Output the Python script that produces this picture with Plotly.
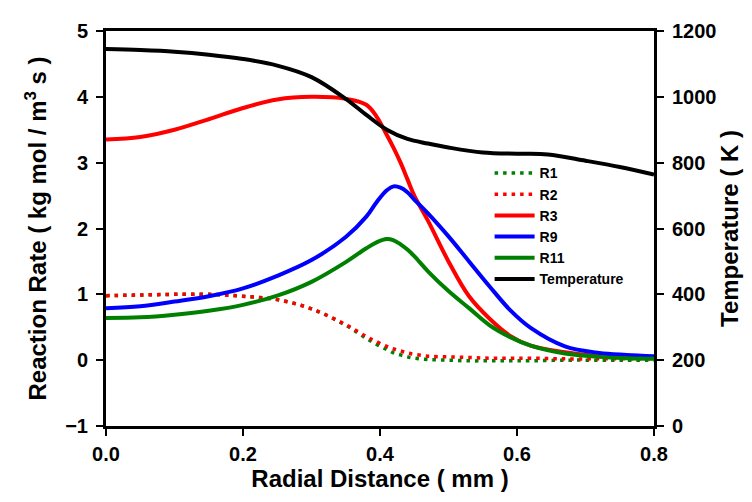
import plotly.graph_objects as go

# radial distance (mm)
x_rate = [0.0, 0.05, 0.1, 0.15, 0.2, 0.25, 0.3, 0.35, 0.38, 0.395, 0.41, 0.42, 0.43, 0.44,
          0.45, 0.47, 0.5, 0.53, 0.56, 0.59, 0.62, 0.67, 0.72, 0.76, 0.8]

r1 = [0.98, 0.99, 1.0, 1.0, 0.97, 0.92, 0.78, 0.53, 0.33, 0.24, 0.16, 0.11, 0.08, 0.05,
      0.03, 0.01, 0.0, -0.01, -0.01, -0.01, -0.01, 0.0, 0.0, 0.0, 0.0]
r2 = [0.98, 0.99, 1.0, 1.0, 0.97, 0.92, 0.78, 0.54, 0.36, 0.28, 0.21, 0.17, 0.14, 0.11,
      0.09, 0.06, 0.05, 0.04, 0.03, 0.03, 0.03, 0.02, 0.02, 0.02, 0.02]
r3 = [3.35, 3.39, 3.50, 3.66, 3.83, 3.96, 4.0, 3.97, 3.88, 3.70, 3.42, 3.22, 3.0, 2.75,
      2.50, 2.12, 1.50, 0.97, 0.63, 0.37, 0.22, 0.12, 0.06, 0.04, 0.03]
r9 = [0.79, 0.82, 0.89, 0.97, 1.09, 1.28, 1.52, 1.87, 2.18, 2.40, 2.58, 2.64, 2.62, 2.55,
      2.44, 2.23, 1.88, 1.50, 1.12, 0.76, 0.49, 0.21, 0.11, 0.08, 0.06]
r11 = [0.64, 0.65, 0.69, 0.75, 0.84, 0.98, 1.19, 1.49, 1.70, 1.79, 1.84, 1.82, 1.76, 1.68,
       1.58, 1.35, 1.05, 0.79, 0.53, 0.35, 0.22, 0.10, 0.05, 0.03, 0.02]

x_temp = [0.0, 0.05, 0.1, 0.15, 0.2, 0.25, 0.3, 0.35, 0.38, 0.41, 0.44, 0.47, 0.5,
          0.55, 0.6, 0.645, 0.7, 0.75, 0.8]
temperature = [1145, 1142, 1137, 1128, 1115, 1095, 1060, 994, 945, 900, 872, 858, 846,
               831, 827, 825, 806, 787, 764]

font_family = "Liberation Sans, Arial, sans-serif"

fig = go.Figure()

# reaction rates on the left axis
fig.add_trace(go.Scatter(x=x_rate, y=r1, name='R1', mode='lines', line_shape='spline',
                         line=dict(color='#008000', width=3.5, dash='3.5px,5px')))
fig.add_trace(go.Scatter(x=x_rate, y=r2, name='R2', mode='lines', line_shape='spline',
                         line=dict(color='#ff0000', width=3.5, dash='3.5px,5px')))
fig.add_trace(go.Scatter(x=x_rate, y=r3, name='R3', mode='lines', line_shape='spline',
                         line=dict(color='#ff0000', width=4)))
fig.add_trace(go.Scatter(x=x_rate, y=r9, name='R9', mode='lines', line_shape='spline',
                         line=dict(color='#0000ff', width=4)))
fig.add_trace(go.Scatter(x=x_rate, y=r11, name='R11', mode='lines', line_shape='spline',
                         line=dict(color='#008000', width=4)))

# temperature on the right axis
fig.add_trace(go.Scatter(x=x_temp, y=temperature, name='Temperature', mode='lines',
                         line_shape='spline', yaxis='y2',
                         line=dict(color='black', width=4)))

axis_common = dict(
    showline=True, linecolor='black', linewidth=3,
    ticks='outside', ticklen=7, tickwidth=2, tickcolor='black',
    showgrid=False, zeroline=False,
    tickfont=dict(family=font_family, size=20, color='black', weight='bold'),
    title_font=dict(family=font_family, size=24, color='black', weight='bold'),
)

fig.update_layout(
    width=752, height=502,
    margin=dict(l=98, r=106, t=23, b=84),
    plot_bgcolor='white', paper_bgcolor='white',
    xaxis=dict(range=[0, 0.8], tickvals=[0, 0.2, 0.4, 0.6, 0.8], tickformat='.1f',
               mirror=True, ticklabelstandoff=1,
               title=dict(text='Radial Distance ( mm )', standoff=6), **axis_common),
    yaxis=dict(range=[-1, 5], dtick=1, ticklabelstandoff=4,
               title=dict(text='Reaction Rate ( kg mol / m<sup>3</sup> s )', standoff=12),
               **axis_common),
    yaxis2=dict(range=[0, 1200], dtick=200, overlaying='y', side='right',
                ticklabelstandoff=4,
                title=dict(text='Temperature ( K )', standoff=6), **axis_common),
    legend=dict(x=0.7, y=0.68, xanchor='left', yanchor='top',
                bgcolor='rgba(0,0,0,0)', itemwidth=40, tracegroupgap=0,
                font=dict(family=font_family, size=14, color='black', weight='bold')),
    showlegend=True,
)

fig.write_html("out.html")
